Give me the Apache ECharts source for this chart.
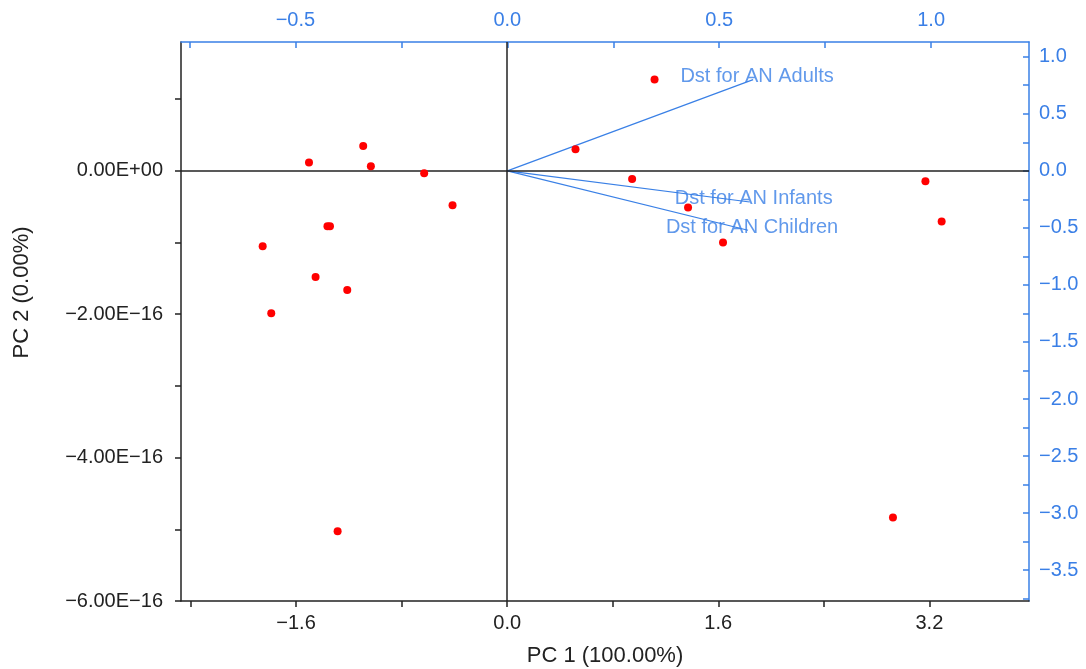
<!DOCTYPE html>
<html>
<head>
<meta charset="utf-8">
<script src="https://cdn.jsdelivr.net/npm/echarts@6/dist/echarts.min.js"></script>
<style>
    html, body { margin: 0; padding: 0; background: #ffffff; }
    #chart { width: 1086px; height: 669px; }
</style>
</head>
<body>
<div id="chart"></div>
<script>
    // scores (red points): PC 1 and PC 2
    const pc1Scores = [1.117, 0.518, 0.947, 1.371, 1.636, 3.170, 3.293, 2.924, -1.091, -1.502,
        -1.033, -0.629, -0.414, -1.362, -1.343, -1.853, -1.452, -1.212, -1.788, -1.285];
    const pc2Scores = [1.272e-16, 0.300e-16, -0.114e-16, -0.513e-16, -1.001e-16, -0.146e-16, -0.709e-16, -4.837e-16, 0.346e-16, 0.114e-16,
        0.063e-16, -0.035e-16, -0.481e-16, -0.774e-16, -0.774e-16, -1.053e-16, -1.481e-16, -1.662e-16, -1.987e-16, -5.028e-16];

    // loadings (blue lines), read on the top / right axes
    const loadingNames = ['Dst for AN Adults', 'Dst for AN Infants', 'Dst for AN Children'];
    const loadingPC1 = [0.580, 0.572, 0.568];
    const loadingPC2 = [0.799, -0.273, -0.521];

    // tick values
    const pc1Labels = [-1.6, 0, 1.6, 3.2];
    const pc1Minor = [-2.4, -0.8, 0.8, 2.4];
    const pc2Labels = [-6e-16, -4e-16, -2e-16, 0];
    const pc2Minor = [-5e-16, -3e-16, -1e-16, 1e-16];
    const topLabels = [-0.5, 0, 0.5, 1.0];
    const topMinor = [-0.75, -0.25, 0.25, 0.75];
    const rightLabels = [-3.5, -3.0, -2.5, -2.0, -1.5, -1.0, -0.5, 0, 0.5, 1.0];
    const rightMinor = [-3.75, -3.25, -2.75, -2.25, -1.75, -1.25, -0.75, -0.25, 0.25, 0.75];

    const BLACK = '#222222';
    const BLUE = '#3a80e6';
    const BLUE_TEXT = '#3a7fe6';
    const FONT = 'Liberation Sans, Arial, sans-serif';

    const fixed1 = v => (v < 0 ? '\u2212' : '') + Math.abs(v).toFixed(1);
    const sci = v => {
        if (Math.abs(v) < 1e-30) return '0.00E+00';
        const e = Math.floor(Math.log10(Math.abs(v)) + 1e-9);
        const m = v / Math.pow(10, e);
        return (m < 0 ? '\u2212' : '') + Math.abs(m).toFixed(2) + 'E' + (e < 0 ? '\u2212' : '+') + String(Math.abs(e)).padStart(2, '0');
    };

    const chart = echarts.init(document.getElementById('chart'));

    const series = [
        {
            name: 'scores',
            type: 'scatter',
            xAxisIndex: 0,
            yAxisIndex: 0,
            symbolSize: 8,
            itemStyle: { color: '#ff0000', opacity: 1 },
            data: pc1Scores.map((x, i) => [x, pc2Scores[i]]),
            z: 5,
            markLine: {
                silent: true,
                symbol: 'none',
                label: { show: false },
                lineStyle: { color: BLACK, width: 1.5, type: 'solid' },
                data: [{ xAxis: 0 }, { yAxis: 0 }],
            },
        },
    ];

    loadingNames.forEach((name, i) => {
        series.push({
            name: name,
            type: 'line',
            xAxisIndex: 1,
            yAxisIndex: 1,
            symbol: 'none',
            lineStyle: { color: BLUE, width: 1.2 },
            data: [[0, 0], [loadingPC1[i], loadingPC2[i]]],
            z: 3,
        });
    });

    // loading names at the line ends
    series.push({
        name: 'loading labels',
        type: 'scatter',
        xAxisIndex: 1,
        yAxisIndex: 1,
        symbolSize: 1,
        itemStyle: { color: 'rgba(0,0,0,0)' },
        label: {
            show: true,
            position: 'inside',
            offset: [4, -3],
            formatter: p => p.data[2],
            color: BLUE_TEXT,
            fontSize: 20,
            fontFamily: FONT,
        },
        data: loadingNames.map((n, i) => [loadingPC1[i], loadingPC2[i], n]),
        z: 4,
    });

    chart.setOption({
        animation: false,
        backgroundColor: '#ffffff',
        grid: { left: 181, right: 57, top: 42, bottom: 68, containLabel: false, outerBoundsMode: 'none' },
        xAxis: [
            {
                type: 'value',
                position: 'bottom',
                min: -2.472,
                max: 3.955,
                name: 'PC 1 (100.00%)',
                nameLocation: 'middle',
                nameGap: 44,
                nameTextStyle: { color: BLACK, fontSize: 22, fontFamily: FONT },
                axisLine: { show: true, onZero: false, lineStyle: { color: BLACK, width: 1.5 } },
                axisTick: { show: true, inside: false, length: 6, lineStyle: { color: BLACK, width: 1.5 },
                    customValues: pc1Labels.concat(pc1Minor) },
                axisLabel: { customValues: pc1Labels, formatter: fixed1, color: BLACK, fontSize: 20, fontFamily: FONT, margin: 12 },
                splitLine: { show: false },
            },
            {
                type: 'value',
                position: 'top',
                min: -0.770,
                max: 1.231,
                axisLine: { show: true, onZero: false, lineStyle: { color: BLUE, width: 1.5 } },
                axisTick: { show: true, inside: true, length: 6, lineStyle: { color: BLUE, width: 1.5 },
                    customValues: topLabels.concat(topMinor) },
                axisLabel: { customValues: topLabels, formatter: fixed1, color: BLUE_TEXT, fontSize: 20, fontFamily: FONT, margin: 12 },
                splitLine: { show: false },
            },
        ],
        yAxis: [
            {
                type: 'value',
                position: 'left',
                min: -6e-16,
                max: 1.796e-16,
                name: 'PC 2 (0.00%)',
                nameLocation: 'middle',
                nameGap: 148,
                nameTextStyle: { color: BLACK, fontSize: 22, fontFamily: FONT, padding: [0, 0, 0, 58] },
                axisLine: { show: true, onZero: false, lineStyle: { color: BLACK, width: 1.5 } },
                axisTick: { show: true, inside: false, length: 6, lineStyle: { color: BLACK, width: 1.5 },
                    customValues: pc2Labels.concat(pc2Minor) },
                axisLabel: { customValues: pc2Labels, formatter: sci, color: BLACK, fontSize: 20, fontFamily: FONT, margin: 18 },
                splitLine: { show: false },
            },
            {
                type: 'value',
                position: 'right',
                min: -3.770,
                max: 1.129,
                axisLine: { show: true, onZero: false, lineStyle: { color: BLUE, width: 1.5 } },
                axisTick: { show: true, inside: true, length: 6, lineStyle: { color: BLUE, width: 1.5 },
                    customValues: rightLabels.concat(rightMinor) },
                axisLabel: { customValues: rightLabels, formatter: fixed1, color: BLUE_TEXT, fontSize: 20, fontFamily: FONT, margin: 10 },
                splitLine: { show: false },
            },
        ],
        series: series,
    });
</script>
</body>
</html>
